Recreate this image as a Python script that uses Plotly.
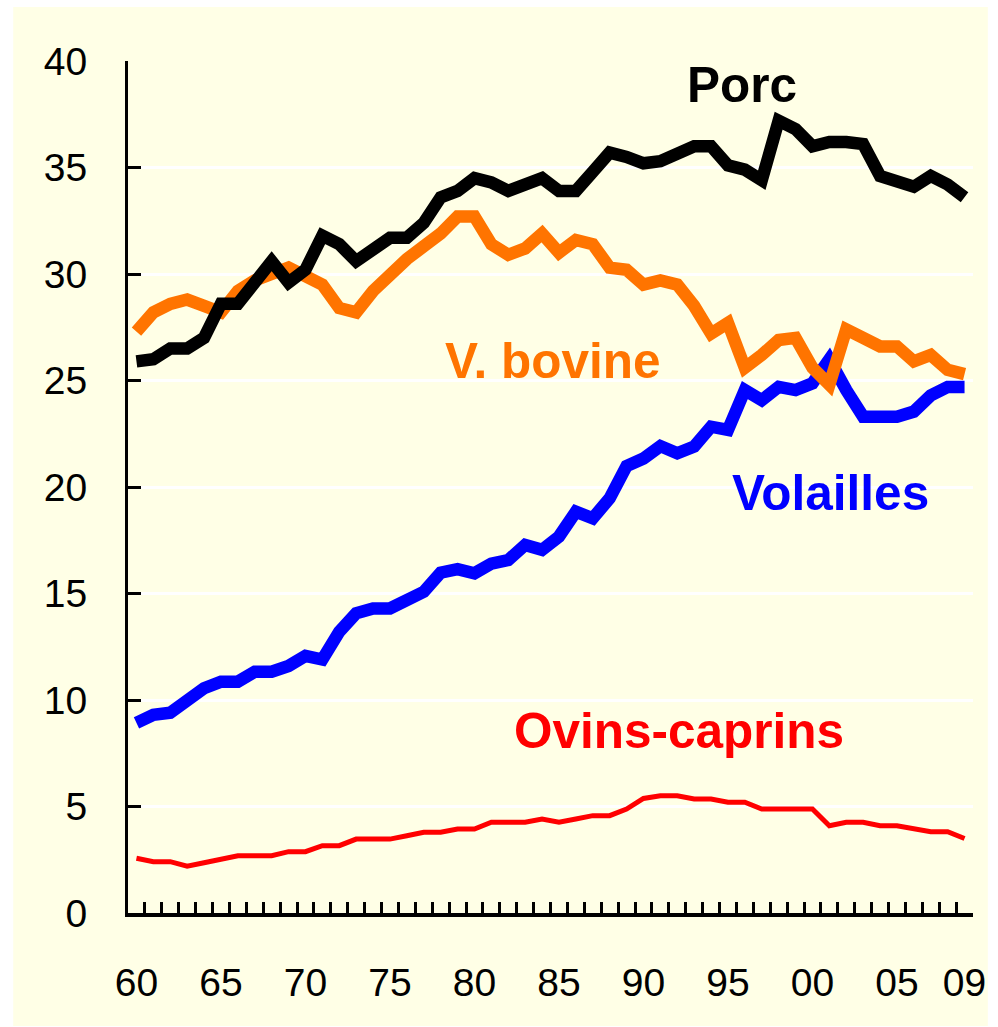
import plotly.graph_objects as go

years = list(range(1960, 2010))

porc = [25.9, 26.0, 26.5, 26.5, 27.0, 28.6, 28.6, 29.5, 30.6, 29.6,
        30.2, 31.8, 31.4, 30.6, 31.2, 31.7, 31.7, 32.4, 33.6, 33.9,
        34.5, 34.3, 33.9, 34.2, 34.5, 33.9, 33.9, 34.8, 35.7, 35.5,
        35.2, 35.3, 35.6, 36.0, 36.0, 35.1, 34.9, 34.4, 37.2, 36.8,
        36.0, 36.2, 36.2, 36.1, 34.6, 34.3, 34.1, 34.6, 34.2, 33.6]

bovine = [27.3, 28.2, 28.6, 28.8, 28.5, 28.2, 29.2, 29.7, 30.0, 30.3,
          29.9, 29.5, 28.4, 28.2, 29.2, 30.0, 30.7, 31.3, 31.9, 32.7,
          32.7, 31.4, 30.9, 31.2, 31.9, 31.0, 31.6, 31.4, 30.3, 30.2,
          29.5, 29.7, 29.5, 28.5, 27.2, 27.7, 25.6, 26.2, 26.9, 27.0,
          25.6, 24.8, 27.4, 27.0, 26.6, 26.6, 25.9, 26.2, 25.5, 25.3]

volailles = [8.93, 9.3, 9.4, 9.9, 10.55, 10.86, 10.86, 11.33, 11.33, 11.6,
             12.07, 11.9, 13.2, 14.07, 14.3, 14.3, 14.77, 15.08, 15.98, 16.14,
             15.95, 16.4, 16.57, 17.28, 17.05, 17.67, 18.84, 18.53, 19.47, 20.98,
             21.34, 21.92, 21.58, 21.9, 22.83, 22.68, 24.55, 24.08, 24.7, 24.55,
             24.87, 26.0, 24.55, 23.3, 23.3, 23.3, 23.54, 24.3, 24.7, 24.7]

ovins = [2.57, 2.41, 2.41, 2.2, 2.36, 2.52, 2.69, 2.69, 2.69, 2.88,
         2.88, 3.16, 3.16, 3.47, 3.47, 3.47, 3.63, 3.79, 3.79, 3.94,
         3.94, 4.26, 4.26, 4.26, 4.41, 4.26, 4.41, 4.57, 4.57, 4.88,
         5.38, 5.5, 5.5, 5.35, 5.35, 5.2, 5.2, 4.88, 4.88, 4.88,
         4.88, 4.1, 4.26, 4.26, 4.1, 4.1, 3.97, 3.82, 3.82, 3.5]

tick_years = [1960, 1965, 1970, 1975, 1980, 1985, 1990, 1995, 2000, 2005, 2009]
tick_labels = ["60", "65", "70", "75", "80", "85", "90", "95", "00", "05", "09"]

y_ticks = [0, 5, 10, 15, 20, 25, 30, 35, 40]

series_labels = [
    ("Porc", 1995.86, 38.92, "#000000"),
    ("V. bovine", 1984.62, 25.94, "#FF7400"),
    ("Volailles", 2001.04, 19.72, "#0000FF"),
    ("Ovins-caprins", 1992.08, 8.59, "#FF0000"),
]

BG = "#FFFFE6"
FONT = "Liberation Sans, Arial, sans-serif"

fig = go.Figure()
fig.add_trace(go.Scatter(x=years, y=ovins, mode="lines",
                         line=dict(color="#FF0000", width=5), hoverinfo="skip"))
fig.add_trace(go.Scatter(x=years, y=volailles, mode="lines",
                         line=dict(color="#0000FF", width=12.5), hoverinfo="skip"))
fig.add_trace(go.Scatter(x=years, y=bovine, mode="lines",
                         line=dict(color="#FF7400", width=12.5), hoverinfo="skip"))
fig.add_trace(go.Scatter(x=years, y=porc, mode="lines",
                         line=dict(color="#000000", width=12.5), hoverinfo="skip"))
# invisible trace for label axis
fig.add_trace(go.Scatter(x=[years[0]], y=[0], xaxis="x2", mode="markers",
                         marker=dict(opacity=0), hoverinfo="skip"))

for txt, xx, yy, col in series_labels:
    fig.add_annotation(x=xx, y=yy, xref="x", yref="y", text="<b>%s</b>" % txt,
                       showarrow=False, xanchor="center", yanchor="middle",
                       font=dict(family=FONT, size=49.5, color=col))

xr = [1959.5, 2009.5]
fig.update_layout(
    width=998, height=1027,
    margin=dict(l=128, r=16, t=61, b=114),
    paper_bgcolor="white",
    plot_bgcolor="rgba(0,0,0,0)",
    showlegend=False,
    shapes=[dict(type="rect", xref="paper", yref="paper",
                 x0=(12 - 128) / 854, x1=(997 - 128) / 854,
                 y0=(913 - 1026) / 852, y1=(913 - 7) / 852,
                 fillcolor=BG, line=dict(width=0), layer="below")],
    xaxis=dict(range=xr, tickmode="linear", tick0=1959.5, dtick=1,
               ticks="inside", ticklen=11, tickwidth=3, tickcolor="black",
               showticklabels=False, showgrid=False, zeroline=False,
               showline=True, linecolor="black", linewidth=4),
    xaxis2=dict(range=xr, overlaying="x", side="bottom", anchor="y",
                tickmode="array", tickvals=tick_years, ticktext=tick_labels,
                ticks="", showgrid=False, zeroline=False, showline=False,
                ticklabelstandoff=43,
                tickfont=dict(family=FONT, size=39, color="black")),
    yaxis=dict(range=[0, 40], tickmode="array", tickvals=y_ticks,
               ticks="inside", ticklen=13, tickwidth=3, tickcolor="black",
               showgrid=True, gridcolor="white", gridwidth=3, zeroline=False,
               showline=True, linecolor="black", linewidth=3,
               ticklabelstandoff=30,
               tickfont=dict(family=FONT, size=39, color="black")),
)

fig.write_html("out.html", config={"displayModeBar": False},
               post_script="document.body.style.margin='0';"
                           "document.body.style.overflow='hidden';")
